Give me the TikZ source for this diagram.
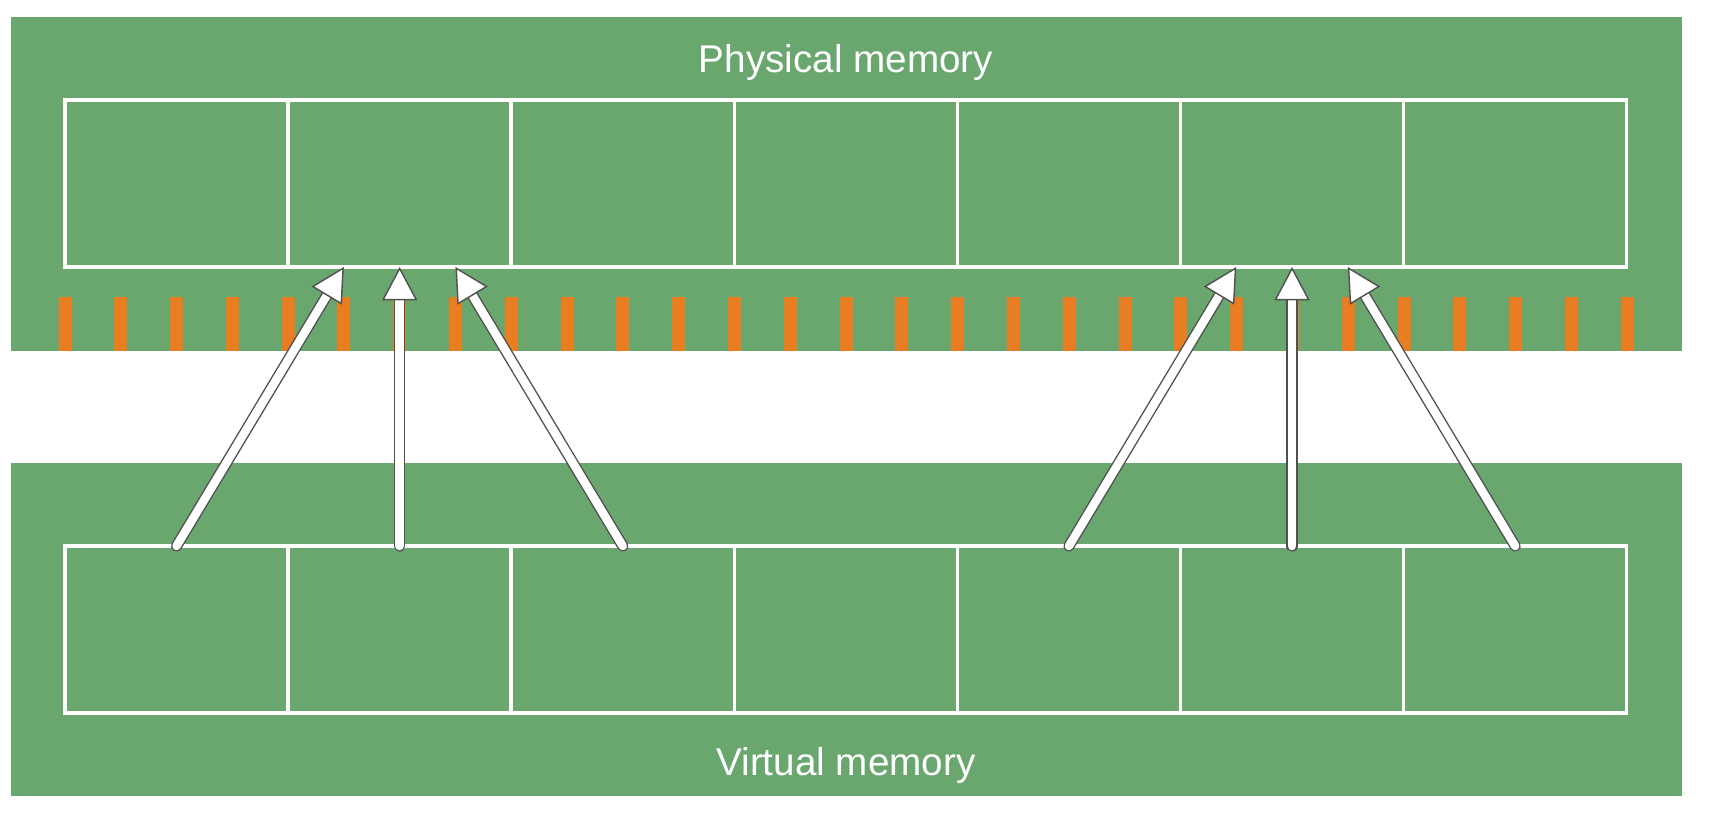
\documentclass[tikz,border=0pt]{standalone}
\usepackage{fontspec}
\setmainfont{Liberation Sans}
\definecolor{memGreen}{RGB}{106,167,111}
\definecolor{memOrange}{RGB}{232,125,34}
\definecolor{memGray}{RGB}{80,80,80}
\usetikzlibrary{arrows.meta,positioning,calc}

\begin{document}
\begin{tikzpicture}[
  cell/.style={draw=white, line width=1pt, minimum width=2.231cm,
               minimum height=1.67cm, inner sep=0pt, outer sep=0pt},
  memlabel/.style={text=white, font=\fontsize{11}{13}\selectfont},
  maparrow/.style={draw=memGray, line width=0.4pt, double=white,
                   double distance=2.4pt, line cap=round,
                   -{Triangle[length=9.5pt, width=10pt, fill=white, line width=0.4pt]}}
]
  \useasboundingbox (0,0) rectangle (17.1,8.16);
  \fill[memGreen] (0.11,4.65) rectangle (16.82,7.99);
  \fill[memGreen] (0.11,0.20) rectangle (16.82,3.53);
  \foreach \k in {0,...,28}
    \fill[memOrange] ({0.585+0.5579*\k},4.65) rectangle ++(0.13,0.54);
  \foreach \i in {0,...,6} {
    \node[cell] (p\i) at ({0.65+2.231*(\i+0.5)},6.325) {};
    \node[cell] (v\i) at ({0.65+2.231*(\i+0.5)},1.865) {};
  }
  \node[memlabel] (phys) at (8.46,7.53) {Physical memory};
  \node[memlabel] (virt) at (8.46,0.51) {Virtual memory};

  \draw[maparrow] (v0.north) -- ([xshift=-5.58mm]p1.south);
  \draw[maparrow] (v1.north) -- (p1.south);
  \draw[maparrow] (v2.north) -- ([xshift=5.58mm]p1.south);
  \draw[maparrow] (v4.north) -- ([xshift=-5.58mm]p5.south);
  \draw[maparrow] (v5.north) -- (p5.south);
  \draw[maparrow] (v6.north) -- ([xshift=5.58mm]p5.south);
\end{tikzpicture}
\end{document}
